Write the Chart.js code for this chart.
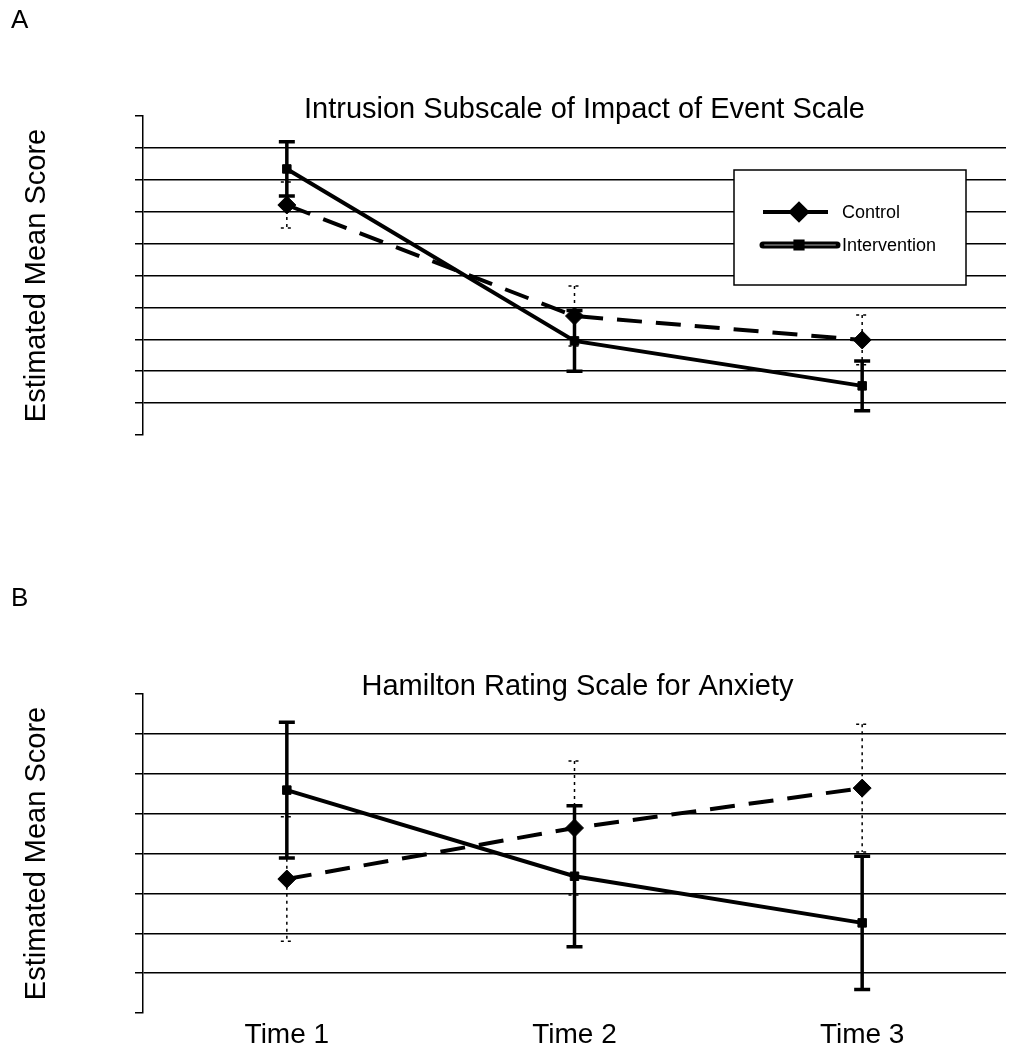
<!DOCTYPE html>
<html>
<head>
<meta charset="utf-8">
<script src="https://cdn.jsdelivr.net/npm/chart.js@4.4.0/dist/chart.umd.min.js"></script>
<style>
  body { margin: 0; background: #fff; }
  #wrap { position: relative; width: 1026px; height: 1050px; }
  canvas { position: absolute; left: 0; }
  #chartA { top: 0; }
  #chartB { top: 520px; }
</style>
</head>
<body>
<div id="wrap">
  <canvas id="chartA" width="1026" height="520"></canvas>
  <canvas id="chartB" width="1026" height="530"></canvas>
</div>
<script>
// ---- data ----
const timeLabels = ['Time 1', 'Time 2', 'Time 3'];
const seriesNames = ['Control', 'Intervention'];

// A: Intrusion subscale (IES)
const controlA = [7.21, 3.73, 2.98];
const controlAErr = [0.72, 0.94, 0.78];
const interventionA = [8.34, 2.95, 1.54];
const interventionAErr = [0.85, 0.95, 0.78];

// B: Hamilton anxiety
const controlB = [3.36, 4.64, 5.64];
const controlBErr = [1.56, 1.68, 1.60];
const interventionB = [5.59, 3.43, 2.26];
const interventionBErr = [1.70, 1.77, 1.67];

// y axes have no labels, only tick marks
const yRangeA = [0, 10];
const yRangeB = [0, 8];

const FONT = "'Liberation Sans', Arial, Helvetica, sans-serif";

// error bars drawn under the lines
const errorBars = {
  id: 'errorBars',
  beforeDatasetsDraw(chart) {
    const ctx = chart.ctx;
    const y = chart.scales.y;
    chart.data.datasets.forEach((ds, i) => {
      const meta = chart.getDatasetMeta(i);
      ctx.save();
      ctx.strokeStyle = '#000';
      ctx.lineWidth = ds.errWidth;
      ctx.setLineDash(ds.errDash);
      meta.data.forEach((pt, j) => {
        const hi = y.getPixelForValue(ds.data[j] + ds.errors[j]);
        const lo = y.getPixelForValue(ds.data[j] - ds.errors[j]);
        ctx.beginPath();
        ctx.moveTo(pt.x, hi);
        ctx.lineTo(pt.x, lo);
        ctx.moveTo(pt.x - ds.errCap, hi);
        ctx.lineTo(pt.x + ds.errCap, hi);
        ctx.moveTo(pt.x - ds.errCap, lo);
        ctx.lineTo(pt.x + ds.errCap, lo);
        ctx.stroke();
      });
      ctx.restore();
    });
  }
};

// panel letter, title and (optionally) the boxed legend
const panelDecor = {
  id: 'panelDecor',
  afterDraw(chart, args, opts) {
    const ctx = chart.ctx;
    const ca = chart.chartArea;
    ctx.save();
    ctx.fillStyle = '#000';
    ctx.textBaseline = 'alphabetic';
    ctx.textAlign = 'left';
    ctx.font = '26px ' + FONT;
    ctx.fillText(opts.letter, 11, opts.letterY);

    ctx.font = '29px ' + FONT;
    ctx.textAlign = 'center';
    ctx.textBaseline = 'middle';
    ctx.fillText(opts.title, (ca.left + ca.right) / 2 + opts.titleDx, ca.top + opts.titleDy);

    if (opts.legend) {
      const bx = ca.right - 272, by = ca.top + 54, bw = 232, bh = 115;
      ctx.fillStyle = '#fff';
      ctx.fillRect(bx, by, bw, bh);
      ctx.strokeStyle = '#000';
      ctx.lineWidth = 1.5;
      ctx.strokeRect(bx, by, bw, bh);

      ctx.font = '18px ' + FONT;
      ctx.textAlign = 'left';
      ctx.textBaseline = 'middle';
      chart.data.datasets.forEach((ds, i) => {
        const ly = by + 42 + i * 33;
        const x0 = bx + 29, x1 = bx + (i === 0 ? 94 : 103), mx = bx + 65;
        ctx.strokeStyle = '#000';
        ctx.setLineDash([]);
        if (i === 0) {
          ctx.lineWidth = 4;
          ctx.beginPath();
          ctx.moveTo(x0, ly); ctx.lineTo(x1, ly);
          ctx.stroke();
        } else {
          ctx.lineCap = 'round';
          ctx.lineWidth = 7;
          ctx.beginPath();
          ctx.moveTo(x0, ly); ctx.lineTo(x1, ly);
          ctx.stroke();
          ctx.strokeStyle = '#555';
          ctx.lineWidth = 2;
          ctx.beginPath();
          ctx.moveTo(x0 + 2, ly); ctx.lineTo(x1 - 2, ly);
          ctx.stroke();
          ctx.lineCap = 'butt';
        }
        ctx.fillStyle = '#000';
        ctx.strokeStyle = '#000';
        Chart.helpers.drawPoint(ctx, {
          pointStyle: ds.pointStyle, radius: i === 0 ? 8 : 6.5, rotation: 0, borderWidth: 1
        }, mx, ly);
        ctx.fillStyle = '#000';
        ctx.fillText(ds.label, bx + 108, ly + 1);
      });
    }
    ctx.restore();
  }
};

function makeDatasets(ctrl, ctrlErr, intv, intvErr) {
  return [
    {
      label: seriesNames[0],
      data: ctrl,
      errors: ctrlErr,
      errWidth: 1.5, errDash: [3, 4], errCap: 6,
      borderColor: '#000',
      backgroundColor: '#000',
      borderWidth: 4,
      borderDash: [25, 14],
      pointStyle: 'rectRot',
      pointRadius: 9,
      pointBorderWidth: 1,
      tension: 0
    },
    {
      label: seriesNames[1],
      data: intv,
      errors: intvErr,
      errWidth: 3.5, errDash: [], errCap: 8,
      borderColor: '#000',
      backgroundColor: '#000',
      borderWidth: 4,
      pointStyle: 'rect',
      pointRadius: 6,
      pointBorderWidth: 1,
      tension: 0
    }
  ];
}

function yAxis(range) {
  return {
    min: range[0],
    max: range[1],
    ticks: { display: false, stepSize: 1 },
    grid: {
      color: c => (c.tick && (c.tick.value === range[0] || c.tick.value === range[1])) ? 'rgba(0,0,0,0)' : '#000',
      tickColor: '#000',
      tickLength: 8,
      lineWidth: 1.5
    },
    border: { display: true, color: '#000', width: 1.5 },
    title: {
      display: true,
      text: 'Estimated Mean Score',
      color: '#000',
      font: { family: FONT, size: 29 },
      padding: { top: 10, bottom: 0 }
    },
    afterFit: s => { s.width = 133; }
  };
}

Chart.defaults.font.family = FONT;

new Chart(document.getElementById('chartA'), {
  type: 'line',
  data: {
    labels: timeLabels,
    datasets: makeDatasets(controlA, controlAErr, interventionA, interventionAErr)
  },
  options: {
    responsive: false,
    animation: false,
    events: [],
    layout: { padding: { left: 10, right: 20, top: 116, bottom: 85 } },
    scales: {
      x: { display: false, offset: true },
      y: yAxis(yRangeA)
    },
    plugins: {
      legend: { display: false },
      tooltip: { enabled: false },
      panelDecor: {
        letter: 'A', letterY: 28,
        title: 'Intrusion Subscale of Impact of Event Scale',
        titleDx: 10, titleDy: -6, legend: true
      }
    }
  },
  plugins: [errorBars, panelDecor]
});

new Chart(document.getElementById('chartB'), {
  type: 'line',
  data: {
    labels: timeLabels,
    datasets: makeDatasets(controlB, controlBErr, interventionB, interventionBErr)
  },
  options: {
    responsive: false,
    animation: false,
    events: [],
    layout: { padding: { left: 10, right: 20, top: 174, bottom: 0 } },
    scales: {
      x: {
        offset: true,
        grid: { display: false },
        border: { display: false },
        ticks: { color: '#000', font: { family: FONT, size: 28 }, padding: -3, maxRotation: 0 },
        afterFit: s => { s.height = 37; }
      },
      y: yAxis(yRangeB)
    },
    plugins: {
      legend: { display: false },
      tooltip: { enabled: false },
      panelDecor: {
        letter: 'B', letterY: 86,
        title: 'Hamilton Rating Scale for Anxiety',
        titleDx: 3, titleDy: -7, legend: false
      }
    }
  },
  plugins: [errorBars, panelDecor]
});
</script>
</body>
</html>
